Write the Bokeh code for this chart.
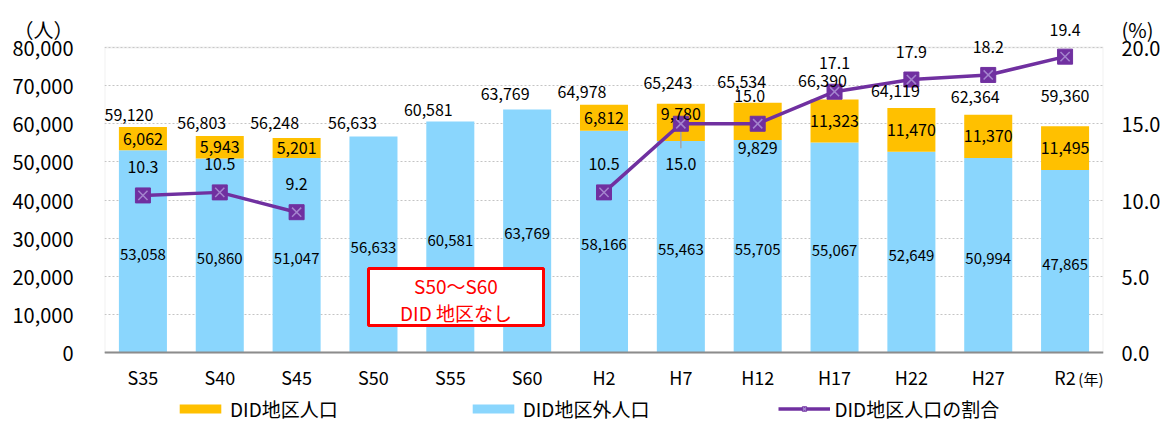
from bokeh.plotting import figure
from bokeh.models import (ColumnDataSource, Range1d, LinearAxis, FactorRange, NumeralTickFormatter,
                          FixedTicker, Label, BoxAnnotation, Legend, LegendItem, Span)
from bokeh.core.properties import value
from bokeh.embed import file_html
from bokeh.resources import INLINE

# ---------------- data ----------------
categories = ["S35", "S40", "S45", "S50", "S55", "S60", "H2", "H7", "H12", "H17", "H22", "H27", "R2"]
did_pop = [6062, 5943, 5201, 0, 0, 0, 6812, 9780, 9829, 11323, 11470, 11370, 11495]
non_did_pop = [53058, 50860, 51047, 56633, 60581, 63769, 58166, 55463, 55705, 55067, 52649, 50994, 47865]
total_pop = [59120, 56803, 56248, 56633, 60581, 63769, 64978, 65243, 65534, 66390, 64119, 62364, 59360]
did_ratio = [10.3, 10.5, 9.2, None, None, None, 10.5, 15.0, 15.0, 17.1, 17.9, 18.2, 19.4]
left_ticks = [0, 10000, 20000, 30000, 40000, 50000, 60000, 70000, 80000]
right_ticks = [0, 5, 10, 15, 20]
left_unit = "（人）"
right_unit = "(%)"
x_unit = "(年)"
legend_labels = ["DID地区人口", "DID地区外人口", "DID地区人口の割合"]

# ---------------- layout (px) ----------------
W, H = 1170, 422
FRAME_LEFT, FRAME_RIGHT, FRAME_TOP = 104, 1103, 20
ZERO_PX, TOPLINE_PX, UNIT_PX = 352, 47, 29
ppu = (ZERO_PX - TOPLINE_PX) / left_ticks[-1]          # px per person
Y_BOTTOM = -(H - ZERO_PX) / ppu
Y_TOP = (ZERO_PX - FRAME_TOP) / ppu
UNIT_TICK = round((ZERO_PX - UNIT_PX) / ppu)
k = right_ticks[-1] / left_ticks[-1]
PCT_UNIT = UNIT_TICK * k

# label placement offsets (px)
total_dx = [-14, -18, -22, -21, -22, -22, -22, -13, -16, -12, -16, -13, 0]
total_dy = [-12, -13, -15, -14, -12, -15, -13, -21, -21, -18, -17, -18, -30]
did_dy = [0, 0, 0, 0, 0, 0, 0, -8, 27, 0, 0, 0, 0]
ratio_dx = [0, 0, 0, 0, 0, 0, 0, 0, -8, 0, 0, 0, 0]
ratio_dy = [-28, -28, -28, 0, 0, 0, -28, 40, -28, -29, -28, -28, -27]

FONT = "Noto Sans CJK JP"
BLUE = "#8AD6FD"
ORANGE = "#FFC000"
PURPLE = "#7030A0"
BORDER = "#D0D0D0"

nan = float("nan")
ratio_vals = [nan if r is None else r for r in did_ratio]

src = ColumnDataSource(dict(x=categories, did=did_pop, non_did=non_did_pop, ratio=ratio_vals))

p = figure(x_range=FactorRange(*categories), y_range=Range1d(Y_BOTTOM, Y_TOP),
           width=W, height=H, output_backend="svg", toolbar_location=None,
           x_axis_location=None,
           min_border_left=FRAME_LEFT, min_border_right=W - FRAME_RIGHT,
           min_border_top=FRAME_TOP, min_border_bottom=0)
p.extra_y_ranges = {"pct": Range1d(Y_BOTTOM * k, Y_TOP * k)}

p.outline_line_color = None
p.xgrid.visible = False
p.ygrid.ticker = FixedTicker(ticks=left_ticks)
p.ygrid.grid_line_color = "#C4C4C4"
p.ygrid.grid_line_dash = "2 2"


def style_value_axis(ax, standoff):
    ax.axis_line_color = None
    ax.major_tick_line_color = None
    ax.minor_tick_line_color = None
    ax.major_tick_out = 0
    ax.major_tick_in = 0
    ax.major_label_standoff = standoff
    ax.major_label_text_font = FONT
    ax.major_label_text_font_size = "20px"
    ax.major_label_text_color = "#000000"


lax = p.yaxis[0]
lax.ticker = FixedTicker(ticks=left_ticks + [UNIT_TICK])
lax.formatter = NumeralTickFormatter(format="0,0")
lax.major_label_overrides = {UNIT_TICK: left_unit}
style_value_axis(lax, 31)

rax = LinearAxis(y_range_name="pct", ticker=FixedTicker(ticks=right_ticks + [PCT_UNIT]),
                 formatter=NumeralTickFormatter(format="0.0"))
rax.major_label_overrides = {PCT_UNIT: right_unit}
style_value_axis(rax, 18)
p.add_layout(rax, "right")

# plot-area border (sides) and base line
p.add_layout(BoxAnnotation(bottom=left_ticks[0], top=left_ticks[-1], fill_alpha=0,
                           line_color=BORDER, line_width=2, level="underlay"))
p.add_layout(Span(location=0, dimension="width", line_color="#8C8C8C", line_width=2))

# stacked bars
bars = p.vbar_stack(["non_did", "did"], x="x", width=0.625, color=[BLUE, ORANGE],
                    line_color=None, source=src)

# ratio line + markers
line = p.line("x", "ratio", source=src, y_range_name="pct", line_color=PURPLE, line_width=3.5)
h7 = categories.index("H7")
p.segment(x0=[categories[h7]], y0=[did_ratio[h7]], x1=[categories[h7]], y1=[did_ratio[h7] - 1.6],
          y_range_name="pct", line_color="#A6A6A6", line_width=1.5)
sq = p.scatter("x", "ratio", source=src, y_range_name="pct", marker="square", size=15,
               fill_color=PURPLE, line_color=PURPLE)
xm = p.scatter("x", "ratio", source=src, y_range_name="pct", marker="x", size=13,
               line_color="#A484CE", line_width=1.5)

# category labels under the base line
cat_src = ColumnDataSource(dict(x=categories, y=[0] * len(categories), t=categories))
p.text("x", "y", text="t", source=cat_src, y_offset=24, text_align="center",
       text_baseline="middle", text_font=value(FONT), text_font_size="18px", text_color="#000000")

# data labels
tot_src = ColumnDataSource(dict(x=categories, y=total_pop, t=[f"{v:,}" for v in total_pop],
                                dx=total_dx, dy=total_dy))
p.text("x", "y", text="t", source=tot_src, x_offset="dx", y_offset="dy", text_align="center",
       text_baseline="middle", text_font=value(FONT), text_font_size="16px", text_color="#000000")

idx = [i for i, v in enumerate(did_pop) if v > 0]
did_src = ColumnDataSource(dict(x=[categories[i] for i in idx],
                                y=[non_did_pop[i] + did_pop[i] / 2 for i in idx],
                                t=[f"{did_pop[i]:,}" for i in idx],
                                dy=[did_dy[i] for i in idx]))
p.text("x", "y", text="t", source=did_src, y_offset="dy", text_align="center",
       text_baseline="middle", text_font=value(FONT), text_font_size="16px", text_color="#000000")

nd_src = ColumnDataSource(dict(x=categories, y=[v / 2 for v in non_did_pop],
                               t=[f"{v:,}" for v in non_did_pop]))
p.text("x", "y", text="t", source=nd_src, y_offset=3, text_align="center",
       text_baseline="middle", text_font=value(FONT), text_font_size="15px", text_color="#000000")

ridx = [i for i, r in enumerate(did_ratio) if r is not None]
r_src = ColumnDataSource(dict(x=[categories[i] for i in ridx], y=[did_ratio[i] for i in ridx],
                              t=[f"{did_ratio[i]:.1f}" for i in ridx],
                              dx=[ratio_dx[i] for i in ridx], dy=[ratio_dy[i] for i in ridx]))
p.text("x", "y", text="t", source=r_src, y_range_name="pct", x_offset="dx", y_offset="dy",
       text_align="center", text_baseline="middle", text_font=value(FONT),
       text_font_size="16px", text_color="#000000")

# year unit, right of R2 (frame-relative screen units)
p.add_layout(Label(x=FRAME_RIGHT - FRAME_LEFT, y=H - 378, x_units="screen", y_units="screen",
                   text=x_unit, text_align="right", text_baseline="middle", text_font=FONT,
                   text_font_size="15px", text_color="#000000"))

# red note box
p.add_layout(BoxAnnotation(left=368 - FRAME_LEFT, right=543 - FRAME_LEFT, bottom=H - 325, top=H - 268,
                           left_units="screen", right_units="screen", top_units="screen",
                           bottom_units="screen", fill_color="#FFFFFF", fill_alpha=1,
                           line_color="#FF0000", line_width=3, line_alpha=1))
for txt, yy in (("S50～S60", 285), ("DID 地区なし", 312)):
    p.add_layout(Label(x=455.5 - FRAME_LEFT, y=H - yy, x_units="screen", y_units="screen", text=txt,
                       text_align="center", text_baseline="middle", text_font=FONT,
                       text_font_size="19px", text_color="#FF0000"))

# legend (inside the frame, bottom row)
legend = Legend(items=[LegendItem(label=legend_labels[0], renderers=[bars[1]]),
                       LegendItem(label=legend_labels[1], renderers=[bars[0]]),
                       LegendItem(label=legend_labels[2], renderers=[line, sq, xm])],
                location=(174 - FRAME_LEFT, 0), orientation="horizontal", spacing=129,
                glyph_width=52, glyph_height=11, label_standoff=4,
                padding=0, margin=0, border_line_color=None, background_fill_alpha=0,
                label_text_font=FONT, label_text_font_size="19px", label_height=20,
                label_text_color="#000000")
p.add_layout(legend)

open("out.html", "w").write(file_html(p, INLINE))
